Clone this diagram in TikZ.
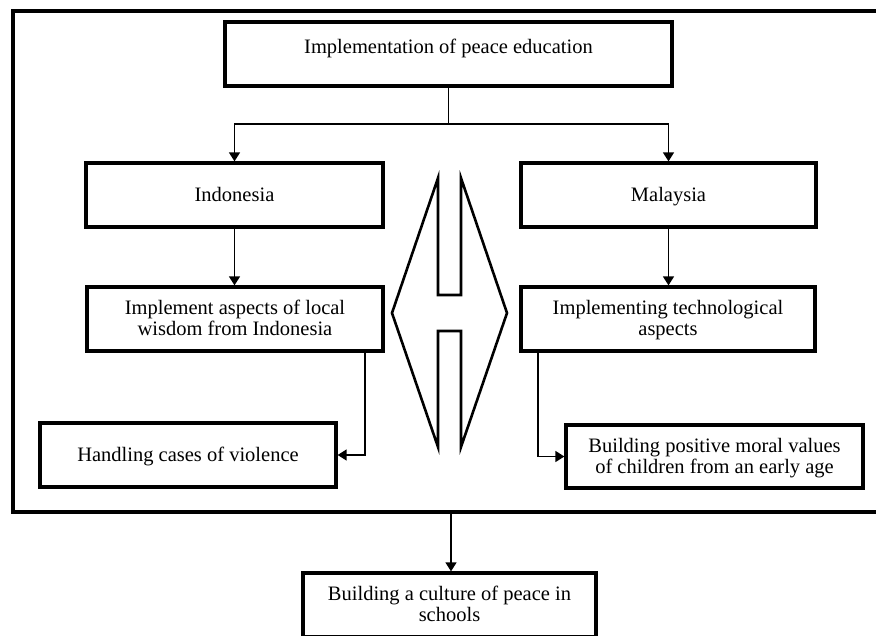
\documentclass[tikz,border=0pt]{standalone}
\usepackage{fontspec}
\setmainfont{Liberation Serif}
\usetikzlibrary{arrows.meta}
\begin{document}
\begin{tikzpicture}[x=1pt,y=-1pt,
  box/.style={draw, line width=3.3pt, inner sep=0pt, align=center,
    font=\fontsize{20.5}{21}\selectfont},
  one/.style={text height=14pt, text depth=2pt},
  two/.style={text height=35pt, text depth=2pt},
  arr/.style={line width=1.5pt, -{Triangle[length=9pt,width=11pt]}},
  conn/.style={line width=1.5pt},
  frame/.style={line width=3.3pt},
  dbl/.style={line width=2.6pt, line join=miter}]
\useasboundingbox (0,0) rectangle (876,635);
% outer frame
\draw[frame] (880,11) -- (13,11) -- (13,512) -- (880,512);
% nodes
\node[box, minimum width=447pt, minimum height=64pt, text height=14pt, text depth=16pt] (top) at (448.5,54) {Implementation of peace education};
\node[box, one, minimum width=297pt, minimum height=64pt] (indo) at (234.5,195) {Indonesia};
\node[box, two, minimum width=296pt, minimum height=64pt] (impl) at (235,319) {Implement aspects of local\\wisdom from Indonesia};
\node[box, one, minimum width=296pt, minimum height=64pt] (hand) at (188,455) {Handling cases of violence};
\node[box, one, minimum width=295pt, minimum height=64pt] (malay) at (668.5,195) {Malaysia};
\node[box, two, minimum width=294pt, minimum height=64pt] (tech) at (668,319) {Implementing technological\\aspects};
\node[box, two, minimum width=297pt, minimum height=63pt] (moral) at (714.5,456.5) {Building positive moral values\\of children from an early age};
\node[box, two, minimum width=293pt, minimum height=64pt] (culture) at (449.5,605) {Building a culture of peace in\\schools};
% double arrow shape
\draw[dbl] (438,178) -- (438,295) -- (461,295) -- (461,178) -- (507,313) -- (461,447)
  -- (461,331) -- (438,331) -- (438,447) -- (392,313) -- cycle;
% connectors
\coordinate (split) at (448.5,124);
\coordinate (c1) at (365,351);
\coordinate (c2) at (538,351);
\coordinate (fb) at (451,512);
\draw[conn] (top.south) -- (split);
\draw[arr] (split) -| (indo.north);
\draw[arr] (split) -| (malay.north);
\draw[arr] (indo.south) -- (indo.south |- impl.north);
\draw[arr] (malay.south) -- (malay.south |- tech.north);
\draw[arr] (c1) |- (hand.east);
\draw[arr] (c2) |- (moral.west);
\draw[arr] (fb) -- (fb |- culture.north);
\end{tikzpicture}
\end{document}
